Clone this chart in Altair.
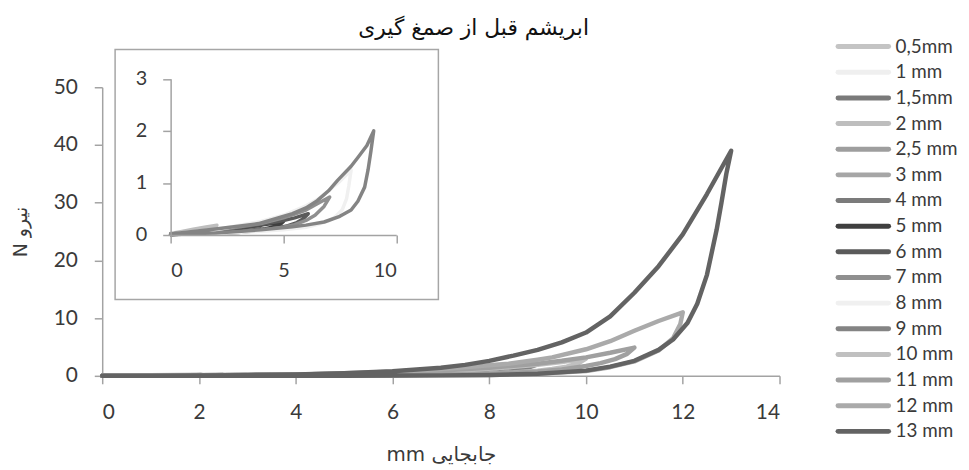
import altair as alt
import pandas as pd

SERIES = ["0,5mm", "1 mm", "1,5mm", "2 mm", "2,5 mm", "3 mm", "4 mm", "5 mm",
          "6 mm", "7 mm", "8 mm", "9 mm", "10 mm", "11 mm", "12 mm", "13 mm"]
COLORS = ["#c4c4c4", "#efefef", "#7a7a7a", "#bebebe", "#9e9e9e", "#a6a6a6", "#7b7b7b", "#3f3f3f",
          "#5a5a5a", "#8f8f8f", "#f0f0f0", "#848484", "#c0c0c0", "#a0a0a0", "#aaaaaa", "#636363"]
INSET_SERIES = SERIES[:12]

# loops: loading branch then unloading branch (displacement mm, force N)
X05 = [0, 0.25, 0.5, 0.3, 0]
F05 = [0.02, 0.03, 0.04, 0.03, 0.01]
X1 = [0, 0.5, 1, 0.8, 0.4, 0]
F1 = [0.02, 0.04, 0.06, 0.04, 0.03, 0.01]
X15 = [0, 0.5, 1, 1.5, 1.3, 0.8, 0]
F15 = [0.02, 0.04, 0.06, 0.08, 0.05, 0.03, 0.01]
X2 = [0, 0.5, 1, 1.5, 2.05, 1.95, 1.7, 1.2, 0.6, 0]
F2 = [0.03, 0.07, 0.11, 0.15, 0.19, 0.13, 0.1, 0.07, 0.04, 0.02]
X25 = [0, 1, 1.5, 2, 2.5, 2.35, 2, 1.5, 1, 0]
F25 = [0.02, 0.05, 0.07, 0.09, 0.13, 0.09, 0.06, 0.04, 0.03, 0.01]
X3 = [0, 1, 2, 2.5, 3, 2.85, 2.5, 2, 1, 0]
F3 = [0.02, 0.05, 0.08, 0.1, 0.14, 0.1, 0.07, 0.05, 0.03, 0.01]
X4 = [0, 1, 2, 3, 3.5, 4, 3.85, 3.6, 3.2, 2.5, 1.5, 0]
F4 = [0.02, 0.05, 0.08, 0.12, 0.15, 0.18, 0.14, 0.11, 0.08, 0.05, 0.03, 0.01]
X5 = [0, 2, 3, 4, 4.5, 5, 4.85, 4.6, 4.2, 3.5, 2.5, 1.5, 0]
F5 = [0.02, 0.08, 0.13, 0.19, 0.22, 0.26, 0.2, 0.16, 0.12, 0.08, 0.05, 0.03, 0.01]
X6 = [0, 2, 4, 5, 5.5, 6.1, 5.9, 5.6, 5.2, 4.8, 4, 3, 2, 0]
F6 = [0.02, 0.08, 0.2, 0.28, 0.33, 0.41, 0.32, 0.24, 0.18, 0.14, 0.09, 0.05, 0.03, 0.01]
X7 = [0, 2, 4, 5, 5.5, 6, 6.5, 7.05, 6.8, 6.4, 6.0, 5.5, 5, 4, 2, 0]
F7 = [0.02, 0.09, 0.22, 0.33, 0.4, 0.48, 0.6, 0.73, 0.55, 0.38, 0.28, 0.2, 0.15, 0.09, 0.03, 0.01]
X8 = [0, 2, 4, 5, 6, 6.5, 7, 7.5, 8, 7.9, 7.8, 7.6, 7.3, 7, 6.5, 6, 5, 4, 2, 0]
F8 = [0.02, 0.1, 0.26, 0.38, 0.56, 0.68, 0.85, 1.03, 1.25, 0.95, 0.7, 0.48, 0.35, 0.27, 0.2, 0.15, 0.1, 0.07, 0.03, 0.02]
X9 = [0, 1.7, 3, 3.9, 5.4, 6, 6.5, 7, 7.4, 8, 8.3, 8.7, 9, 8.88, 8.75, 8.6, 8.3, 8.0, 7.5, 6.8, 6, 5.4, 4, 2, 0]
F9 = [0.02, 0.1, 0.17, 0.22, 0.41, 0.52, 0.66, 0.85, 1.05, 1.32, 1.49, 1.72, 2.0, 1.62, 1.25, 0.92, 0.65, 0.48, 0.36, 0.25, 0.19, 0.16, 0.1, 0.04, 0.02]
X10 = [0, 2, 4, 6, 7, 8, 9, 9.5, 10, 9.85, 9.6, 9.3, 9, 8.5, 8, 7, 6, 4, 2, 0]
F10 = [0, 0.03, 0.14, 0.45, 0.8, 1.25, 1.9, 2.4, 3.0, 2.2, 1.6, 1.2, 0.9, 0.6, 0.4, 0.2, 0.1, 0.03, 0.01, 0]
X11 = [0, 2, 4, 6, 7, 8, 9, 9.5, 10, 10.5, 11, 10.85, 10.6, 10.3, 10, 9.5, 9, 8, 6, 4, 2, 0]
F11 = [0, 0.03, 0.15, 0.5, 0.9, 1.4, 2.1, 2.6, 3.2, 4.0, 4.9, 3.8, 2.9, 2.2, 1.7, 1.1, 0.75, 0.35, 0.08, 0.02, 0.01, 0]
X12 = [0, 2, 4, 6, 7, 8, 8.4, 9, 9.3, 10, 10.5, 11, 11.5, 12, 11.95, 11.8, 11.5, 11, 10.5, 10, 9, 8, 6, 4, 2, 0]
F12 = [0, 0.04, 0.2, 0.7, 1.2, 1.85, 2.1, 2.8, 3.2, 4.6, 6.0, 7.8, 9.5, 11.0, 9.0, 6.5, 4.4, 2.5, 1.5, 0.85, 0.35, 0.15, 0.05, 0.02, 0.01, 0]
X13 = [0, 1, 2, 3, 4, 5, 6, 7, 7.5, 8, 8.5, 9, 9.5, 10, 10.5, 11, 11.5, 12, 12.5, 13,
       12.9, 12.8, 12.7, 12.5, 12.3, 12.1, 11.8, 11.5, 11, 10.5, 10, 9, 8, 7, 6, 5, 4, 3, 2, 1, 0]
F13 = [0, 0.02, 0.05, 0.12, 0.25, 0.45, 0.8, 1.4, 1.9, 2.6, 3.5, 4.5, 5.8, 7.5, 10.3, 14.4, 19, 24.5, 31.5, 39,
       35, 30, 25.3, 17.5, 12.5, 9.2, 6.3, 4.5, 2.6, 1.6, 0.9, 0.35, 0.15, 0.08, 0.05, 0.03, 0.02, 0.01, 0, 0, 0]

LOOPS = [(X05, F05), (X1, F1), (X15, F15), (X2, F2), (X25, F25), (X3, F3), (X4, F4), (X5, F5),
         (X6, F6), (X7, F7), (X8, F8), (X9, F9), (X10, F10), (X11, F11), (X12, F12), (X13, F13)]

rows = []
for name, (xs, fs) in zip(SERIES, LOOPS):
    for i, (xv, fv) in enumerate(zip(xs, fs)):
        rows.append({"series": name, "idx": i, "x": xv, "f": fv})
df = pd.DataFrame(rows)
df_inset = df[df["series"].isin(INSET_SERIES)]
df_legend = pd.DataFrame({"series": SERIES})

FONT = "Lato"
LABEL_COLOR = "#3a3a3a"
AXIS_COLOR = "#a3a3a3"

color_scale = alt.Scale(domain=SERIES, range=COLORS)
color_enc = alt.Color("series:N", sort=SERIES, scale=color_scale, legend=None)

main = alt.Chart(df).mark_line(strokeWidth=4.5, strokeCap="round", strokeJoin="round").encode(
    x=alt.X("x:Q", scale=alt.Scale(domain=[0, 14], nice=False, zero=False),
            axis=alt.Axis(values=list(range(0, 15, 2)), title="mm جابجایی", grid=False,
                          domainColor=AXIS_COLOR, domainWidth=1.5, tickColor=AXIS_COLOR, tickWidth=1.5,
                          tickSize=8, labelPadding=18, labelFont=FONT, labelFontSize=21,
                          labelColor=LABEL_COLOR, titleFont="DejaVu Sans", titleFontSize=20,
                          titleFontWeight="normal", titleColor=LABEL_COLOR, titlePadding=22)),
    y=alt.Y("f:Q", scale=alt.Scale(domain=[0, 50], nice=False),
            axis=alt.Axis(values=list(range(0, 51, 10)), title="N نیرو", grid=False,
                          domainColor=AXIS_COLOR, domainWidth=1.5, tickColor=AXIS_COLOR, tickWidth=1.5,
                          tickSize=8, labelPadding=17, labelFont=FONT, labelFontSize=21,
                          labelColor=LABEL_COLOR, titleFont="DejaVu Sans", titleFontSize=19,
                          titleFontWeight="normal", titleColor=LABEL_COLOR, titlePadding=23)),
    color=color_enc,
    order=alt.Order("idx:Q"),
)

box = alt.Chart(pd.DataFrame({"k": [0]})).mark_rect(
    fill="white", stroke="#a6a6a6", strokeWidth=1.5
).encode(x=alt.value(13), x2=alt.value(339), y=alt.value(-38), y2=alt.value(214))

inset = alt.Chart(df_inset).mark_line(strokeWidth=3.5, strokeCap="round", strokeJoin="round").encode(
    x=alt.X("x:Q", scale=alt.Scale(domain=[0, 10], range=[69, 296.5], nice=False, zero=False),
            axis=alt.Axis(orient="bottom", offset=-142, values=[0, 5, 10], title=None, grid=False,
                          zindex=1, domainColor=AXIS_COLOR, domainWidth=1.5, tickColor=AXIS_COLOR,
                          tickWidth=1.5, tickSize=8, labelPadding=18, labelFont=FONT, labelFontSize=20,
                          labelColor=LABEL_COLOR)),
    y=alt.Y("f:Q", scale=alt.Scale(domain=[0, 3], range=[149, -8.5], nice=False),
            axis=alt.Axis(orient="left", offset=-69, values=[0, 1, 2, 3], title=None, grid=False,
                          zindex=1, domainColor=AXIS_COLOR, domainWidth=1.5, tickColor=AXIS_COLOR,
                          tickWidth=1.5, tickSize=8, labelPadding=16, labelFont=FONT, labelFontSize=20,
                          labelColor=LABEL_COLOR)),
    color=color_enc,
    order=alt.Order("idx:Q"),
)

legend_y = alt.Y("series:N", sort=SERIES, axis=None,
                 scale=alt.Scale(type="point", domain=SERIES, range=[-41, 347], padding=0))

legend_lines = alt.Chart(df_legend).mark_rule(strokeWidth=5, strokeCap="round").encode(
    x=alt.value(742), x2=alt.value(793), y=legend_y, color=color_enc,
)
legend_text = alt.Chart(df_legend).mark_text(
    align="left", baseline="middle", font=FONT, fontSize=19, color=LABEL_COLOR
).encode(x=alt.value(800), y=legend_y, text="series:N")

chart = alt.layer(main, box, inset, legend_lines, legend_text).resolve_scale(
    x="independent", y="independent"
).resolve_axis(
    x="independent", y="independent"
).properties(
    width=683, height=291,
    autosize=alt.AutoSizeParams(type="none"),
    padding={"left": 95, "top": 78, "right": 183, "bottom": 90},
    title=alt.TitleParams("ابریشم قبل از صمغ گیری", font="DejaVu Sans", fontSize=22,
                          fontWeight="normal", color="#111111", frame="group", dx=33,
                          offset=8, dy=32, baseline="bottom"),
).configure_view(stroke=None)

chart.save("out.html", embed_options={"renderer": "svg", "actions": False})
